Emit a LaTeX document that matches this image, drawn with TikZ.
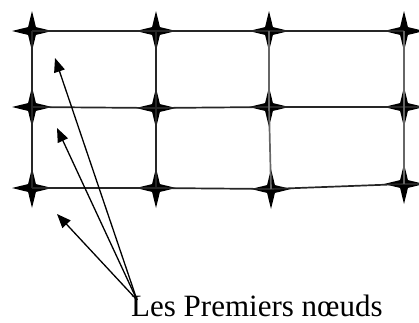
\documentclass[tikz,border=0pt]{standalone}
\usepackage{fontspec}
\setmainfont{Liberation Serif}
\usetikzlibrary{arrows.meta,shapes.geometric}

\begin{document}
\begin{tikzpicture}[x=1pt,y=-1pt,
    nd/.style={star,star points=4,star point ratio=3.6,fill=black,draw=none,minimum size=40pt,inner sep=0pt},
    gridline/.style={line width=1.7pt,black!85},
    pointer/.style={line width=1.3pt,-{Triangle[length=14pt,width=11pt]}}]
      \useasboundingbox (0,0) rectangle (419,322);
      % First row of nodes
      \node[nd] (n11) at (32,31) {};
      \node[nd] (n12) at (156,31) {};
      \node[nd] (n13) at (269,31) {};
      \node[nd] (n14) at (404,31) {};
      
      % Second row
      \node[nd] (n21) at (32,107) {};
      \node[nd] (n22) at (156,108) {};
      \node[nd] (n23) at (269,107) {};
      \node[nd] (n24) at (404,107) {};
      
      % Third row
      \node[nd] (n31) at (32,188) {};
      \node[nd] (n32) at (156,188) {};
      \node[nd] (n33) at (271,189) {};
      \node[nd] (n34) at (404,184) {};
      
      % Lines that run out of the picture
      \coordinate (e2) at (419,107);
      \coordinate (e3) at (419,184);
      
      % Grid
      \draw[gridline] (n11.center) -- (n12.center) -- (n13.center) -- (n14.center);
      \draw[gridline] (n21.center) -- (n22.center) -- (n23.center) -- (n24.center) -- (e2);
      \draw[gridline] (n31.center) -- (n32.center) -- (n33.center) -- (n34.center) -- (e3);
      \draw[gridline] (n11.center) -- (n21.center) -- (n31.center);
      \draw[gridline] (n12.center) -- (n22.center) -- (n32.center);
      \draw[gridline,black!60] (n13.center) -- (n23.center) -- (n33.center);
      \draw[gridline,black!60] (n14.center) -- (n24.center) -- (n34.center);
      
      % Label and its arrows
      \node[anchor=base west,inner sep=0pt,font=\fontsize{31}{36}\selectfont] (lbl) at (131,316) {Les Premiers nœuds};
      \coordinate (src) at (137,300);
      \coordinate (t1) at (55,58);
      \coordinate (t2) at (57,128);
      \coordinate (t3) at (57,214);
      \draw[pointer] (src) -- (t1);
      \draw[pointer] (src) -- (t2);
      \draw[pointer] (src) -- (t3);
    \end{tikzpicture}
\end{document}
